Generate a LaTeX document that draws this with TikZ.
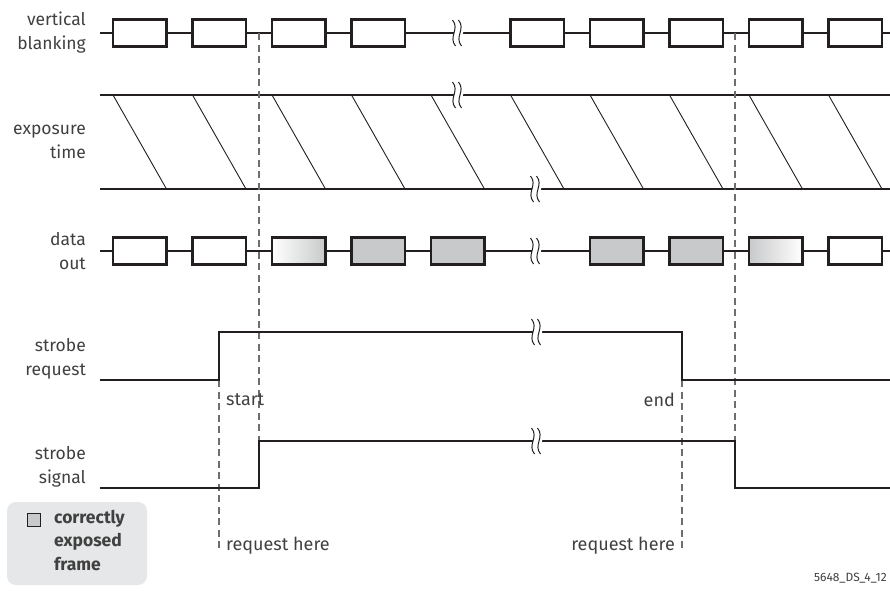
\documentclass[tikz,border=0pt]{standalone}
\usepackage{fontspec}
\setmainfont{Fira Sans}
\usetikzlibrary{shapes.misc}
\definecolor{txt}{HTML}{404040}
\definecolor{ln}{HTML}{231F20}
\definecolor{boxgray}{HTML}{C8C9CA}
\definecolor{leggray}{HTML}{E6E7E8}
\definecolor{dashc}{HTML}{6D6E70}
\tikzset{
  sig/.style={draw=ln, line width=2pt},
  frame/.style={draw=ln, line width=2.4pt, minimum width=53.5pt, minimum height=27pt, inner sep=0pt, fill=white},
  grayframe/.style={frame, fill=boxgray},
  fadein/.style={frame, left color=white, right color=boxgray},
  fadeout/.style={frame, left color=boxgray, right color=white},
  diag/.style={draw=ln, line width=0.9pt},
  guide/.style={draw=dashc, line width=1.1pt, dash pattern=on 7pt off 4.5pt},
  lbl/.style={text=txt, font=\fontsize{17.5}{24}\selectfont, align=right, anchor=east, inner sep=0pt},
  note/.style={text=txt, font=\fontsize{18}{20}\selectfont, inner sep=0pt},
}
\newcommand{\brk}[2]{%
  \fill[white] ({#1-1.5},{#2+13}) .. controls ({#1-9},{#2+4}) and ({#1+3},{#2-4}) .. ({#1-4.5},{#2-13})
     -- ({#1+4.5},{#2-13}) .. controls ({#1+12},{#2-4}) and ({#1},{#2+4}) .. ({#1+7.5},{#2+13}) -- cycle;
  \draw[ln, line width=1pt] ({#1-1.5},{#2+13}) .. controls ({#1-9},{#2+4}) and ({#1+3},{#2-4}) .. ({#1-4.5},{#2-13});
  \draw[ln, line width=1pt] ({#1+4.5},{#2+13}) .. controls ({#1-3},{#2+4}) and ({#1+9},{#2-4}) .. ({#1+1.5},{#2-13});
}
\begin{document}
\begin{tikzpicture}[x=1pt, y=-1pt]
\clip (0,0) rectangle (890,590);
\useasboundingbox (0,0) rectangle (890,590);

% ---------- labels ----------
\node[lbl] (lvb) at (86,33) {vertical\\blanking};
\node[lbl] (lex) at (86,142) {exposure\\time};
\node[lbl] (ldo) at (86,251) {data\\out};
\node[lbl] (lsr) at (86,359) {strobe\\request};
\node[lbl] (lss) at (86,467) {strobe\\signal};

% ---------- vertical blanking ----------
\coordinate (vbs) at (100,33);
\coordinate (vbe) at (890,33);
\draw[sig] (vbs) -- (vbe);
\foreach \k in {0,1,2,3,5,6,7,8,9}{
  \node[frame] (v\k) at ({139.75+79.5*\k},33) {};
}
\brk{457}{33}

% ---------- exposure ----------
\coordinate (ets) at (100,95);
\coordinate (ete) at (890,95);
\coordinate (ebs) at (100,189);
\coordinate (ebe) at (890,189);
\draw[sig] (ets) -- (ete);
\draw[sig] (ebs) -- (ebe);
\foreach \k in {0,...,9}{
  \coordinate (dt\k) at ({113+79.5*\k},95);
  \coordinate (db\k) at ({166.5+79.5*\k},189);
  \draw[diag] (dt\k) -- (db\k);
}
\brk{457}{95}
\brk{535}{189}

% ---------- data out ----------
\coordinate (dos) at (100,251);
\coordinate (doe) at (890,251);
\draw[sig] (dos) -- (doe);
\node[frame] (o0) at ({139.75+79.5*0},251) {};
\node[frame] (o1) at ({139.75+79.5*1},251) {};
\node[fadein] (o2) at ({139.75+79.5*2},251) {};
\node[grayframe] (o3) at ({139.75+79.5*3},251) {};
\node[grayframe] (o4) at ({139.75+79.5*4},251) {};
\node[grayframe] (o6) at ({139.75+79.5*6},251) {};
\node[grayframe] (o7) at ({139.75+79.5*7},251) {};
\node[fadeout] (o8) at ({139.75+79.5*8},251) {};
\node[frame] (o9) at ({139.75+79.5*9},251) {};
\brk{535}{251}

% ---------- dashed guides ----------
\coordinate (ga1) at (259,33);
\coordinate (ga2) at (259,441);
\coordinate (gb1) at (735,33);
\coordinate (gb2) at (735,441);
\coordinate (gc1) at (219,380);
\coordinate (gc2) at (219,552);
\coordinate (gd1) at (682,380);
\coordinate (gd2) at (682,552);
\draw[guide] (ga1) -- (ga2);
\draw[guide] (gb1) -- (gb2);
\draw[guide] (gc1) -- (gc2);
\draw[guide] (gd1) -- (gd2);

% ---------- strobe request ----------
\coordinate (sr0) at (100,380);
\coordinate (sr1) at (219,380);
\coordinate (sr2) at (219,332);
\coordinate (sr3) at (682,332);
\coordinate (sr4) at (682,380);
\coordinate (sr5) at (890,380);
\draw[sig, line join=miter] (sr0) -- (sr1) -- (sr2) -- (sr3) -- (sr4) -- (sr5);
\brk{536}{332}

% ---------- strobe signal ----------
\coordinate (ss0) at (100,488);
\coordinate (ss1) at (259,488);
\coordinate (ss2) at (259,441);
\coordinate (ss3) at (735,441);
\coordinate (ss4) at (735,488);
\coordinate (ss5) at (890,488);
\draw[sig, line join=miter] (ss0) -- (ss1) -- (ss2) -- (ss3) -- (ss4) -- (ss5);
\brk{536}{441}

% ---------- annotations ----------
\node[note, anchor=west] (tstart) at (226,400) {start};
\node[note, anchor=east] (tend) at (675,400) {end};
\node[note, anchor=west] (treq1) at (226,546) {request here};
\node[note, anchor=east] (treq2) at (675,546) {request here};

% ---------- legend ----------
\fill[leggray, rounded corners=9pt] (7,502) rectangle (147,585);
\node[draw=ln, line width=1.5pt, fill=boxgray, minimum size=13pt, inner sep=0pt] (icon) at (34,520) {};
\node[text=txt, font=\bfseries\fontsize{17.5}{23.5}\selectfont, align=left, anchor=north west, inner sep=0pt] (legtxt) at (54,510) {correctly\\exposed\\frame};

% ---------- code ----------
\node[text=txt, font=\fontsize{12}{14}\selectfont, anchor=east, inner sep=0pt] (code) at (887,578) {5648\_DS\_4\_12};
\end{tikzpicture}
\end{document}
